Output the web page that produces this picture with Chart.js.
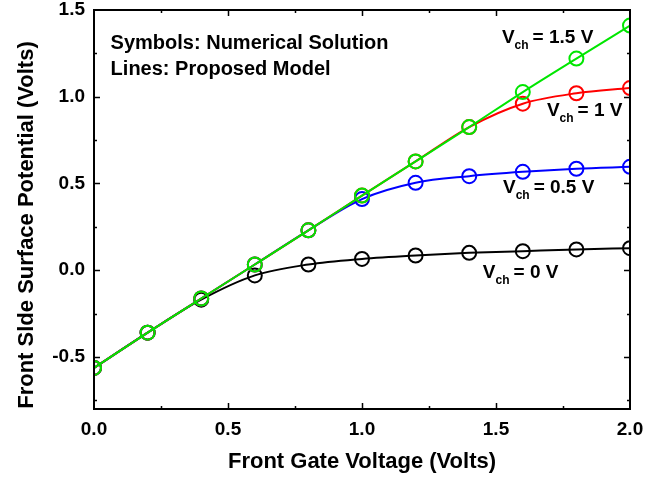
<!DOCTYPE html>
<html>
<head>
<meta charset="utf-8">
<script src="https://cdn.jsdelivr.net/npm/chart.js@4.4.1/dist/chart.umd.min.js"></script>
<style>
html,body{margin:0;padding:0;background:#fff;}
#wrap{width:654px;height:480px;position:relative;}
</style>
</head>
<body>
<div id="wrap"><canvas id="c" width="654" height="480"></canvas></div>
<script>
// ---- data ----
const gateVoltage = [0.0, 0.2, 0.4, 0.6, 0.8, 1.0, 1.2, 1.4, 1.6, 1.8, 2.0];
const vch0   = [-0.563, -0.36, -0.17, -0.03, 0.033, 0.065, 0.085, 0.100, 0.110, 0.120, 0.127];
const vch05  = [-0.563, -0.36, -0.163, 0.033, 0.23, 0.41, 0.504, 0.542, 0.567, 0.585, 0.596];
const vch1   = [-0.563, -0.36, -0.163, 0.033, 0.23, 0.43, 0.627, 0.825, 0.960, 1.020, 1.050];
const vch15  = [-0.563, -0.36, -0.163, 0.033, 0.23, 0.43, 0.627, 0.825, 1.027, 1.220, 1.410];
const seriesNames = ['V_ch = 1.5 V', 'V_ch = 1 V', 'V_ch = 0.5 V', 'V_ch = 0 V'];
const xTicks = [0.0, 0.5, 1.0, 1.5, 2.0];
const yTicks = [-0.5, 0.0, 0.5, 1.0, 1.5];
const xMinorTicks = [0.25, 0.75, 1.25, 1.75];
const yMinorTicks = [-0.75, -0.25, 0.25, 0.75, 1.25];
const xTitle = 'Front Gate Voltage (Volts)';
const yTitle = 'Front Slde Surface Potential (Volts)';
const noteLines = ['Symbols: Numerical Solution', 'Lines: Proposed Model'];
// label anchors in data units: [x, y]
const curveLabels = [
  {text: '1.5 V', at: [1.522, 1.310]},
  {text: '1 V',   at: [1.690, 0.891]},
  {text: '0.5 V', at: [1.526, 0.443]},
  {text: '0 V',   at: [1.451, -0.046]}
];
const noteAnchors = [[0.062, 1.276], [0.062, 1.126]];

const FONT = '"Liberation Sans", Arial, sans-serif';

function mk(label, vals, color) {
  return {
    label: label,
    data: gateVoltage.map((x, i) => ({x: x, y: vals[i]})),
    borderColor: color,
    backgroundColor: 'rgba(0,0,0,0)',
    borderWidth: 2,
    pointRadius: 7,
    pointHoverRadius: 7,
    pointBorderWidth: 2,
    pointBorderColor: color,
    pointBackgroundColor: 'rgba(0,0,0,0)',
    cubicInterpolationMode: 'monotone',
    clip: 0,
    fill: false
  };
}

const frame = {
  id: 'frame',
  afterDraw(chart) {
    const ctx = chart.ctx;
    const a = chart.chartArea;
    const xs = chart.scales.x, ys = chart.scales.y;
    ctx.save();
    ctx.strokeStyle = '#000';
    ctx.lineWidth = 2;
    ctx.strokeRect(a.left, a.top, a.right - a.left, a.bottom - a.top);
    ctx.lineWidth = 1.5;
    const tick = (vals, len) => {
      vals.forEach(v => {
        const px = Math.round(xs.getPixelForValue(v)) + 0.5;
        ctx.beginPath();
        ctx.moveTo(px, a.bottom); ctx.lineTo(px, a.bottom - len);
        ctx.moveTo(px, a.top); ctx.lineTo(px, a.top + len);
        ctx.stroke();
      });
    };
    const ytick = (vals, len) => {
      vals.forEach(v => {
        const py = Math.round(ys.getPixelForValue(v)) + 0.5;
        ctx.beginPath();
        ctx.moveTo(a.left, py); ctx.lineTo(a.left + len, py);
        ctx.moveTo(a.right, py); ctx.lineTo(a.right - len, py);
        ctx.stroke();
      });
    };
    tick(xTicks.slice(1, -1), 6);
    tick(xMinorTicks, 3);
    ytick(yTicks.slice(0, -1), 6);
    ytick(yMinorTicks, 3);

    // notes
    ctx.fillStyle = '#000';
    ctx.textBaseline = 'alphabetic';
    ctx.textAlign = 'left';
    ctx.font = 'bold 20px ' + FONT;
    noteLines.forEach((t, i) => {
      ctx.fillText(t, xs.getPixelForValue(noteAnchors[i][0]), ys.getPixelForValue(noteAnchors[i][1]));
    });
    // curve labels V_ch = ...
    curveLabels.forEach(l => {
      let x = xs.getPixelForValue(l.at[0]);
      const y = ys.getPixelForValue(l.at[1]);
      ctx.font = 'bold 19px ' + FONT;
      ctx.fillText('V', x, y);
      x += ctx.measureText('V').width;
      ctx.font = 'bold 12px ' + FONT;
      ctx.fillText('ch', x, y + 6);
      x += ctx.measureText('ch').width + 4;
      ctx.font = 'bold 19px ' + FONT;
      ctx.fillText('= ' + l.text, x, y);
    });
    // y title
    ctx.font = 'bold 22px ' + FONT;
    ctx.translate(27, 225);
    ctx.rotate(-Math.PI / 2);
    ctx.textAlign = 'center';
    ctx.textBaseline = 'middle';
    ctx.fillText(yTitle, 0, 0);
    ctx.restore();
  }
};

new Chart(document.getElementById('c'), {
  type: 'line',
  data: {
    datasets: [
      mk(seriesNames[0], vch15, '#00e600'),
      mk(seriesNames[1], vch1, '#ff0000'),
      mk(seriesNames[2], vch05, '#0000ff'),
      mk(seriesNames[3], vch0, '#000000')
    ]
  },
  options: {
    responsive: false,
    animation: false,
    events: [],
    layout: {padding: {left: 0, right: 24, top: 0, bottom: 0}},
    plugins: {legend: {display: false}, tooltip: {enabled: false}},
    scales: {
      x: {
        type: 'linear', min: 0, max: 2,
        border: {display: false},
        grid: {display: false, drawTicks: false},
        afterBuildTicks: s => { s.ticks = xTicks.map(v => ({value: v})); },
        afterFit: s => { s.height = 71; },
        ticks: {
          padding: 9, color: '#000',
          font: {family: FONT, size: 19, weight: 'bold'},
          callback: v => Number(v).toFixed(1),
          maxRotation: 0
        },
        title: {
          display: true, text: xTitle, color: '#000',
          font: {family: FONT, size: 22, weight: 'bold'},
          padding: {top: 0, bottom: 5}
        }
      },
      y: {
        type: 'linear', min: -0.8, max: 1.5,
        border: {display: false},
        grid: {display: false, drawTicks: false},
        afterBuildTicks: s => { s.ticks = yTicks.map(v => ({value: v})); },
        afterFit: s => { s.width = 94; s.paddingTop = 10; },
        ticks: {
          padding: 9, color: '#000',
          font: {family: FONT, size: 19, weight: 'bold'},
          callback: v => Number(v).toFixed(1)
        }
      }
    }
  },
  plugins: [frame]
});
</script>
</body>
</html>
